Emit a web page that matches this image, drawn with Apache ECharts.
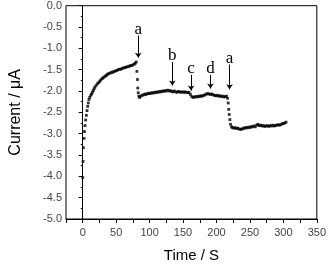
<!DOCTYPE html>
<html>
<head>
<meta charset="utf-8">
<script src="https://cdn.jsdelivr.net/npm/echarts@6/dist/echarts.min.js"></script>
<style>
  html, body { margin: 0; padding: 0; background: #fff; }
  #chart { width: 329px; height: 268px; }
</style>
</head>
<body>
<div id="chart"></div>
<script>
// current trace, [time (s), current (uA)]
var trace = [
  [0,-4.03],[0.5,-3.65],[1,-3.33],[2,-3.11],[2.6,-2.95],[3.4,-2.81],[4.4,-2.68],[5.4,-2.57],[6.4,-2.46],[7.4,-2.36],
  [8.3,-2.28],[9.3,-2.2],[10.5,-2.15],[12,-2.1],[13.3,-2.07],[14.5,-2.03],[15.7,-1.99],[17,-1.95],[18.2,-1.91],[20,-1.87],
  [22,-1.83],[24,-1.8],[25.6,-1.77],[27,-1.74],[29,-1.71],[30.5,-1.69],[32,-1.67],[34,-1.65],[35.5,-1.63],[37,-1.61],
  [39,-1.59],[41,-1.58],[43,-1.56],[45,-1.56],[47,-1.54],[49,-1.53],[51,-1.52],[53,-1.5],[55,-1.49],[57,-1.49],
  [59,-1.47],[61,-1.46],[63,-1.45],[65,-1.44],[67,-1.43],[69,-1.42],[71,-1.41],[73,-1.4],[75,-1.39],[77,-1.37],
  [78.5,-1.35],[80,-1.32],
  [81,-1.54],[81.8,-1.73],[82.3,-1.93],[83,-2.04],[84,-2.12],[85,-2.15],[87,-2.12],[89,-2.1],[91,-2.09],[93,-2.07],
  [95,-2.08],[97,-2.06],[99,-2.05],[101,-2.06],[103,-2.04],[105,-2.05],[107,-2.03],[109,-2.04],[111,-2.02],[113,-2.03],
  [115,-2.01],[117,-2.02],[119,-2.0],[121,-2.01],[123,-1.99],[125,-2.0],[127,-1.98],[129,-2.0],[131,-1.99],[133,-2.01],
  [135,-2.02],[137,-2.0],[139,-2.02],[141,-2.03],[143,-2.01],[145,-2.02],[147,-2.03],[149,-2.02],[151,-2.03],[153,-2.02],
  [155,-2.03],[157,-2.04],[159,-2.03],
  [161,-2.08],[163,-2.13],[165,-2.15],[167,-2.14],[169,-2.13],[171,-2.14],[173,-2.12],[175,-2.13],[177,-2.11],[179,-2.12],
  [181,-2.1],[183,-2.09],[185,-2.07],[187,-2.06],[189,-2.07],[191,-2.08],[193,-2.07],[195,-2.09],[197,-2.1],[199,-2.11],
  [201,-2.1],[203,-2.12],[205,-2.11],[207,-2.13],[209,-2.12],[211,-2.14],[213,-2.13],[215,-2.12],[216.5,-2.17],
  [217.5,-2.28],[218.3,-2.43],[219,-2.55],[220,-2.67],[221,-2.78],[222.5,-2.84],[224,-2.86],[226,-2.87],[228,-2.86],[230,-2.88],
  [232,-2.87],[234,-2.89],[236,-2.9],[238,-2.89],[240,-2.88],[242,-2.86],[244,-2.87],[246,-2.85],[248,-2.86],[250,-2.84],
  [252,-2.85],[254,-2.83],[256,-2.82],[258,-2.84],[260,-2.8],[262,-2.78],[264,-2.81],[266,-2.8],[268,-2.82],[270,-2.81],
  [272,-2.83],[274,-2.82],[276,-2.81],[278,-2.83],[280,-2.81],[282,-2.82],[284,-2.8],[286,-2.82],[288,-2.81],[290,-2.8],
  [292,-2.79],[294,-2.8],[296,-2.79],[298,-2.77],[300,-2.76],[302,-2.75],[304,-2.73]
];

// arrows: letter, time, arrow start (top), arrow tip
var arrowNames = ['a', 'b', 'c', 'd', 'a'];
var arrowTimes = [83, 134, 162, 191, 219.5];
var arrowTops = [-0.7, -1.32, -1.62, -1.62, -1.38];
var arrowTips = [-1.22, -1.87, -1.99, -1.94, -1.96];

var chart = echarts.init(document.getElementById('chart'));

var arrows = [];
for (var i = 0; i < arrowNames.length; i++) {
    arrows.push([
        {coord: [arrowTimes[i], arrowTops[i]], name: arrowNames[i]},
        {coord: [arrowTimes[i], arrowTips[i]]}
    ]);
}

var axisFont = {fontFamily: 'Liberation Sans', fontSize: 11, color: '#444'};

chart.setOption({
    animation: false,
    grid: {left: 66, right: 9.5, top: 5.7, bottom: 48.3, show: true, borderColor: '#000', borderWidth: 1},
    xAxis: {
        type: 'value', min: -25, max: 350, interval: 25,
        name: 'Time / S', nameLocation: 'middle', nameGap: 29,
        nameTextStyle: {fontFamily: 'Liberation Sans', fontSize: 15, color: '#000'},
        axisLine: {onZero: false, lineStyle: {color: '#000'}},
        axisTick: {length: 4, lineStyle: {color: '#000'}},
        axisLabel: Object.assign({margin: 8, formatter: function (v) { return v % 50 === 0 ? v : ''; }}, axisFont),
        splitLine: {show: false}
    },
    yAxis: {
        type: 'value', min: -5, max: 0, interval: 0.5,
        name: 'Current / \u03bcA', nameLocation: 'middle', nameGap: 42,
        nameTextStyle: {fontFamily: 'Liberation Sans', fontSize: 16, color: '#000'},
        axisLine: {lineStyle: {color: '#000'}},
        axisTick: {length: 4, lineStyle: {color: '#000'}},
        minorTick: {show: true, splitNumber: 2, length: 2, lineStyle: {color: '#000'}},
        axisLabel: Object.assign({margin: 4, formatter: function (v) { return v.toFixed(1); }}, axisFont),
        splitLine: {show: false}
    },
    series: [{
        type: 'scatter',
        data: trace,
        symbol: 'rect',
        symbolSize: 2.8,
        itemStyle: {color: '#000'},
        markLine: {
            silent: true,
            symbol: ['none', 'arrow'],
            symbolSize: 5,
            lineStyle: {color: '#000', width: 1, type: 'solid'},
            label: {show: true, position: 'start', formatter: '{b}', distance: 0, offset: [0, 2],
                fontFamily: 'Liberation Serif', fontSize: 17, color: '#000'},
            data: arrows
        }
    }]
});
</script>
</body>
</html>
